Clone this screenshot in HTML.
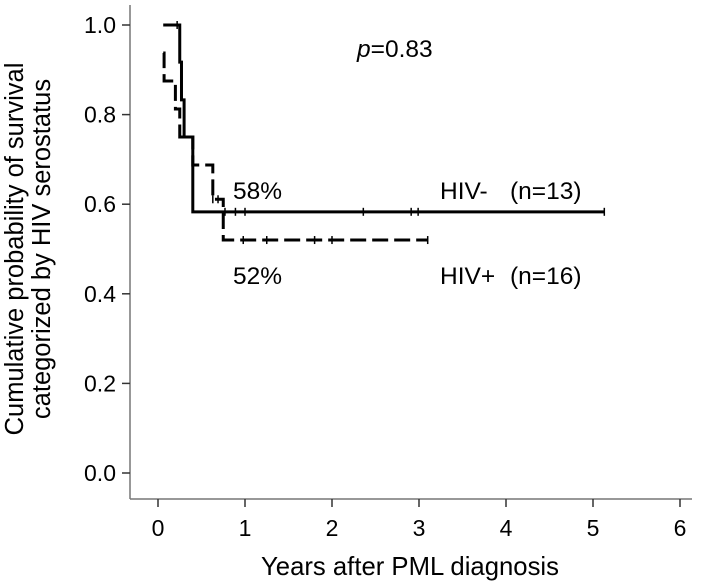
<!DOCTYPE html>
<html><head><meta charset="utf-8"><style>
body{margin:0;background:#fff;}
svg{display:block;font-family:"Liberation Sans",Arial,sans-serif;}
</style></head><body>
<svg id="chart" width="710" height="583">
<g id="axes"></g>
<g id="marks"></g>
<text x="357" y="57" font-size="24.5"><tspan font-style="italic">p</tspan>=0.83</text>
<text x="233" y="199" font-size="24.5">58%</text>
<text x="440" y="199" font-size="24.5">HIV-</text>
<text x="510" y="199" font-size="24.5">(n=13)</text>
<text x="233" y="284" font-size="24.5">52%</text>
<text x="440" y="284" font-size="24.5">HIV+</text>
<text x="510" y="284" font-size="24.5">(n=16)</text>
<text x="410" y="575" font-size="25.7" text-anchor="middle">Years after PML diagnosis</text>
<text transform="translate(23,249) rotate(-90)" font-size="25.5" text-anchor="middle">Cumulative probability of survival</text>
<text transform="translate(50,249) rotate(-90)" font-size="25.5" text-anchor="middle">categorized by HIV serostatus</text>
</svg>
<script>
const xTicks=[0,1,2,3,4,5,6];
const yTicks=[0,0.2,0.4,0.6,0.8,1.0];
const yTickLabels=["0.0","0.2","0.4","0.6","0.8","1.0"];
const negTimes=[0.06,0.25,0.27,0.30,0.40,5.13];
const negSurv=[1.0,0.917,0.833,0.75,0.583,0.583];
const negCensor=[0.22,0.77,0.89,1.0,2.36,2.91,2.99,5.13];
const posTimes=[0.06,0.07,0.20,0.25,0.40,0.63,0.75,3.1];
const posSurv=[0.9375,0.875,0.8125,0.75,0.6875,0.611,0.52,0.52];
const posCensor=[0.63,0.69,0.98,1.25,1.8,2.0,3.1];
const NS="http://www.w3.org/2000/svg";
const X=t=>158+87*t, Y=v=>473-448*v;
function mk(tag,attrs,parent){const e=document.createElementNS(NS,tag);for(const k in attrs)e.setAttribute(k,attrs[k]);parent.appendChild(e);return e;}
const ax=document.getElementById('axes'), mg=document.getElementById('marks');
let l=mk('line',{x1:130,y1:5,x2:130,y2:499,stroke:'#777','stroke-width':1.5},ax);


l=mk('line',{x1:130,y1:499,x2:692,y2:499,stroke:'#777','stroke-width':1.5},ax);


xTicks.forEach(t=>{
 mk('line',{x1:X(t),y1:499,x2:X(t),y2:507,stroke:'#333','stroke-width':1.5},ax);
 const tx=mk('text',{x:X(t),y:536,'font-size':23,'text-anchor':'middle'},ax);tx.textContent=t;
 
 
});
yTicks.forEach((v,i)=>{
 mk('line',{x1:122,y1:Y(v),x2:130,y2:Y(v),stroke:'#333','stroke-width':1.5},ax);
 const tx=mk('text',{x:116,y:Y(v)+8,'font-size':23,'text-anchor':'end'},ax);tx.textContent=yTickLabels[i];
 
 
});
function stepPath(ts,ss){let d=`M${X(ts[0])},${Y(ss[0])}`;for(let i=1;i<ts.length;i++){d+=` H${X(ts[i])} V${Y(ss[i])}`;}return d;}
function survAt(ts,ss,t){let s=ss[0];for(let i=0;i<ts.length;i++){if(ts[i]<=t)s=ss[i];}return s;}
let p=mk('path',{d:stepPath(posTimes,posSurv),fill:'none',stroke:'#000','stroke-width':3,'stroke-dasharray':'16 6'},mg);


p=mk('path',{d:stepPath(negTimes,negSurv),fill:'none',stroke:'#000','stroke-width':3},mg);


negCensor.forEach(t=>{const y=Y(survAt(negTimes,negSurv,t));const c=mk('line',{x1:X(t),y1:y-4,x2:X(t),y2:y+4,stroke:'#000','stroke-width':1.5},mg);
 
 });
posCensor.forEach(t=>{const y=Y(survAt(posTimes,posSurv,t));const c=mk('line',{x1:X(t),y1:y-4,x2:X(t),y2:y+4,stroke:'#000','stroke-width':1.5},mg);
 
 });
</script>
</body></html>
